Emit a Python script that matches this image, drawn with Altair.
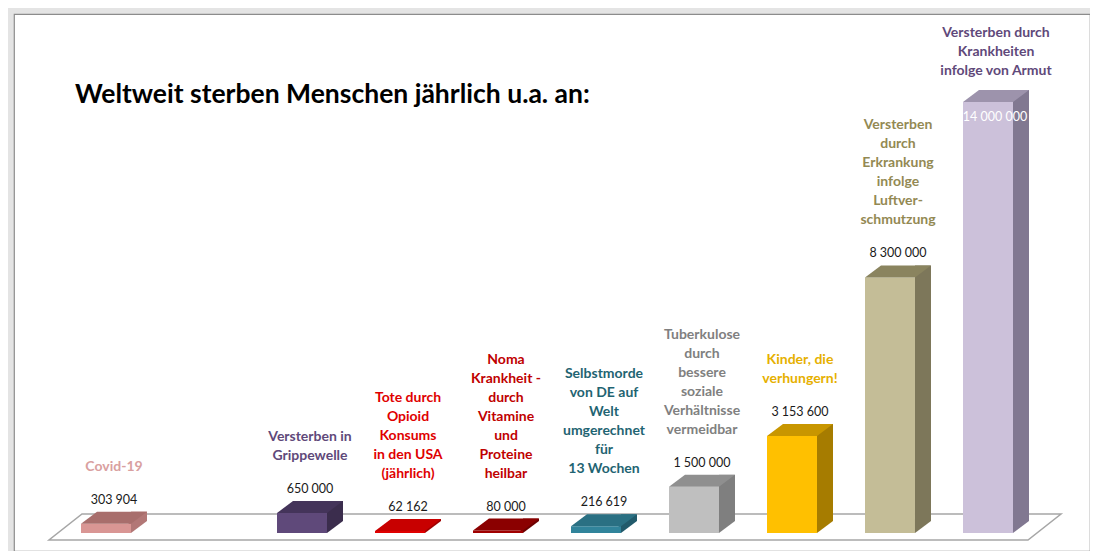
import altair as alt
import pandas as pd

# ---- data ----
keys = ["covid", "grippe", "opioid", "noma", "selbst", "tbc", "kinder", "luft", "armut"]
labels = [
    "Covid-19",
    "Versterben  in\nGrippewelle",
    "Tote durch\nOpioid\nKonsums\nin den USA\n(jährlich)",
    "Noma\nKrankheit -\ndurch\nVitamine\nund\nProteine\nheilbar",
    "Selbstmorde\nvon DE auf\nWelt\numgerechnet\nfür\n13 Wochen",
    "Tuberkulose\ndurch\nbessere\nsoziale\nVerhältnisse\nvermeidbar",
    "Kinder, die\nverhungern!",
    "Versterben\ndurch\nErkrankung\ninfolge\nLuftver-\nschmutzung",
    "Versterben  durch\nKrankheiten\ninfolge von Armut",
]
values = [303904, 650000, 62162, 80000, 216619, 1500000, 3153600, 8300000, 14000000]
slot_domain = ["covid", "_gap", "grippe", "opioid", "noma", "selbst", "tbc", "kinder", "luft", "armut"]
title_text = "Weltweit sterben Menschen jährlich u.a.  an:"

# ---- styles ----
front_colors = ["#D99694", "#5F497A", "#E00000", "#A00000", "#31849B", "#BFBFBF", "#FFC000", "#C4BD97", "#CCC1DA"]
side_colors = ["#B27776", "#3B2D4D", "#A00000", "#6E0000", "#215A6B", "#7F7F7F", "#A67C00", "#7D775A", "#817891"]
top_colors = ["#A86E6C", "#44345A", "#C80000", "#8B0000", "#2A7083", "#8F8F8F", "#C89600", "#8A845F", "#9D93AC"]
label_colors = ["#D9A0A0", "#5F497A", "#E00000", "#C00000", "#1F6472", "#808080", "#E6B000", "#938953", "#5F497A"]
FONT = "Lato"
LINE_H = 19
Y_MAX = 14000000
Y_RANGE = [519, 88]
UNITS_PER_PX = Y_MAX / (Y_RANGE[0] - Y_RANGE[1])

df = pd.DataFrame({"key": keys, "label": labels, "value": values})

xenc = alt.X("key:N", axis=None,
             scale=alt.Scale(domain=slot_domain, range=[43, 1023], paddingInner=0.49, paddingOuter=0.245))
yscale = alt.Scale(domain=[0, Y_MAX], range=Y_RANGE)
yenc = alt.Y("value:Q", axis=None, scale=yscale)
y0 = alt.Y2(datum=0)


def cscale(rng):
    return alt.Color("key:N", scale=alt.Scale(domain=keys, range=rng), legend=None)


base = alt.Chart(df)

# floor (3D plane)
floor = alt.Chart(pd.DataFrame({"f": [0]})).mark_point(
    shape="M -1 0.0257 L 0.9348 0.0257 L 1 -0.0257 L -0.9348 -0.0257 Z",
    size=1024144, filled=True, fill="white", stroke="#A6A6A6", strokeWidth=1.5, opacity=1, yOffset=-6,
).encode(x=alt.value(541), y=alt.Y("f:Q", scale=yscale, axis=None))

side = base.mark_bar(width=16, xOffset=33, yOffset=-12, y2Offset=-12).encode(
    x=xenc, y=yenc, y2=y0, color=cscale(side_colors))

side_tri = base.transform_calculate(zero="0").mark_point(
    shape="M -1.3 -1 L -1.3 0.75 L -1 0.75 L 1 -0.75 L 1 -1 Z",
    size=256, filled=True, opacity=1, strokeWidth=0, xOffset=33, yOffset=-6,
).encode(x=xenc, y=alt.Y("zero:Q", scale=yscale, axis=None), color=cscale(side_colors))

front = base.mark_bar().encode(x=xenc, y=yenc, y2=y0, color=cscale(front_colors))

top = base.mark_point(
    shape="M -1 0.1818 L 0.515 0.1818 L 1 -0.1818 L -0.515 -0.1818 Z",
    size=4356, filled=True, opacity=1, strokeWidth=0, xOffset=8, yOffset=-6,
).encode(x=xenc, y=yenc, color=cscale(top_colors))

fmt = "replace(format(datum.value, ','), regexp(',', 'g'), ' ')"
# lift multi-line labels so that their last line sits just above the value label
lift = f"datum.value + (length(split(datum.label, '\\n')) - 1) * {LINE_H * UNITS_PER_PX}"

label_base = base.transform_calculate(ylab=lift)
ylab = alt.Y("ylab:Q", axis=None, scale=yscale)

cat_text = label_base.transform_filter("datum.value < 10000000").mark_text(
    lineBreak="\n", baseline="bottom", lineHeight=LINE_H, fontWeight="bold", fontSize=14, font=FONT,
    xOffset=8, yOffset=-50,
).encode(x=xenc, y=ylab, text="label:N", color=cscale(label_colors))

cat_text_big = label_base.transform_filter("datum.value >= 10000000").mark_text(
    lineBreak="\n", baseline="bottom", lineHeight=LINE_H, fontWeight="bold", fontSize=14, font=FONT,
    xOffset=8, yOffset=-24,
).encode(x=xenc, y=ylab, text="label:N", color=cscale(label_colors))

val_text = base.transform_filter("datum.value < 10000000").transform_calculate(vl=fmt).mark_text(
    baseline="middle", fontSize=12.5, font=FONT, color="#1A1A1A", xOffset=8, yOffset=-24,
).encode(x=xenc, y=yenc, text="vl:N")

val_text_big = base.transform_filter("datum.value >= 10000000").transform_calculate(vl=fmt).mark_text(
    baseline="middle", fontSize=12.5, font=FONT, color="#FFFFFF", xOffset=7, yOffset=15,
).encode(x=xenc, y=yenc, text="vl:N")

title = alt.Chart(pd.DataFrame({"t": [title_text]})).mark_text(
    align="left", baseline="alphabetic", fontSize=26.5, fontWeight="bold", font=FONT, color="#000000",
).encode(x=alt.value(61), y=alt.value(89), text="t:N")

chart = alt.layer(
    floor, side, side_tri, front, top, cat_text, cat_text_big, val_text, val_text_big, title
).resolve_scale(color="independent").properties(
    width=1076, height=537,
    padding={"left": 6, "top": 6, "right": 0, "bottom": 0},
    background="#E4E4E4",
).configure_view(fill="white", stroke="#8C8C8C", strokeWidth=1.2)

chart.save("out.html", embed_options={"renderer": "svg", "actions": False})
